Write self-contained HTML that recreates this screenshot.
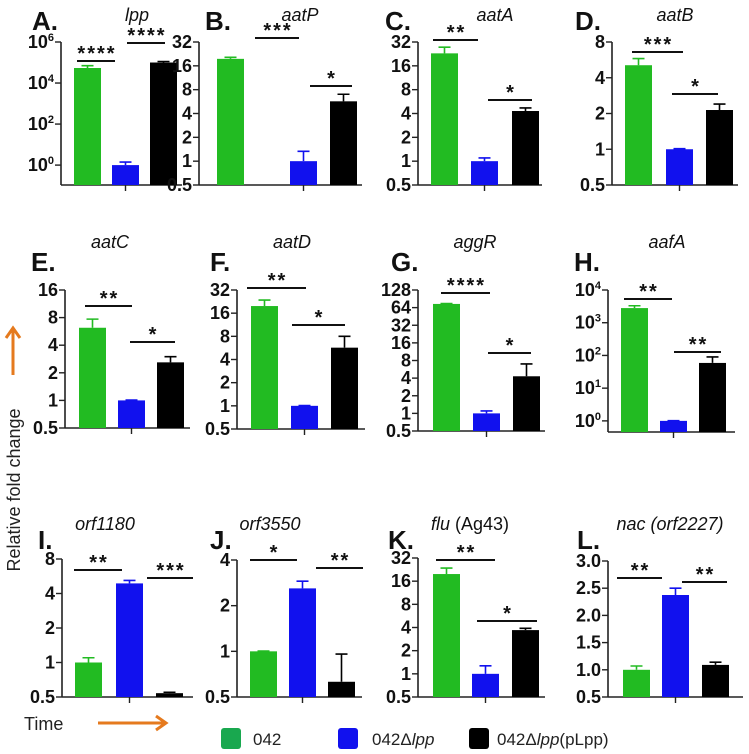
<!DOCTYPE html>
<html><head><meta charset="utf-8"><style>
html,body{margin:0;padding:0;background:#fff;}
svg{display:block;font-family:"Liberation Sans",Arial,sans-serif;}
.tk{font-weight:bold;font-size:18px;fill:#111;text-anchor:end;}
.ttl{font-style:italic;font-size:18px;fill:#111;text-anchor:middle;}
.let{font-weight:bold;font-size:26px;fill:#111;}
.st{font-weight:bold;font-size:20px;fill:#111;text-anchor:middle;letter-spacing:2px;}
</style></head><body>
<svg id="fig" width="749" height="754" viewBox="0 0 749 754"></svg>
<script>
const categories=["042","042Δlpp","042Δlpp(pLpp)"];
const valsA=[54000,1,100000]; const errA=[70000,1.4,112000];
const valsB=[19.6,1.0,5.7]; const errB=[20.5,1.33,7];
const valsC=[23,1,4.3]; const errC=[27.5,1.1,4.7];
const valsD=[5.1,1,2.14]; const errD=[5.8,1.01,2.4];
const valsE=[6.2,1,2.6]; const errE=[7.7,1.01,3.0];
const valsF=[19.8,1,5.7]; const errF=[23.7,1.01,8];
const valsG=[74,1,4.3]; const errG=[75,1.1,7];
const valsH=[2800,1,59]; const errH=[3300,1.01,90];
const valsI=[1.0,4.9,0.54]; const errI=[1.1,5.2,0.55];
const valsJ=[1.0,2.6,0.63]; const errJ=[1.005,2.9,0.96];
const valsK=[19.8,1,3.7]; const errK=[23.7,1.27,3.9];
const valsL=[1.0,2.375,1.09]; const errL=[1.07,2.5,1.14];
const ticksPow2=["0.5","1","2","4","8","16","32","64","128"];

const colors=["#22bb22","#1111ee","#000000"];
const NS="http://www.w3.org/2000/svg";
const svg=document.getElementById('fig');
function mk(tag,attrs,parent){const e=document.createElementNS(NS,tag);for(const k in attrs)e.setAttribute(k,attrs[k]);(parent||svg).appendChild(e);return e;}

const panels=[
 {id:'a',L:'A.',lx:32,ly:30,title:'lpp',tx:137,ty:21,x0:61,x1:182,yT:42,yB:185,type:'log10',min:-0.97,max:6,ticks:[0,2,4,6],bars:[74,112,150],vals:valsA,errs:errA,
  sig:[[77,115,61,'****'],[127,165,43,'****']]},
 {id:'b',L:'B.',lx:205,ly:30,title:'aatP',tx:300,ty:21,x0:199,x1:362,yT:42,yB:185,type:'log2',min:-1,max:5,ticks:[-1,0,1,2,3,4,5],bars:[217,290,330],vals:valsB,errs:errB,
  sig:[[255,299,38,'***'],[310,352,86,'*']]},
 {id:'c',L:'C.',lx:385,ly:30,title:'aatA',tx:495,ty:21,x0:418,x1:542,yT:42,yB:185,type:'log2',min:-1,max:5,ticks:[-1,0,1,2,3,4,5],bars:[431,471,512],vals:valsC,errs:errC,
  sig:[[433,478,40,'**'],[488,532,100,'*']]},
 {id:'d',L:'D.',lx:575,ly:30,title:'aatB',tx:675,ty:21,x0:612,x1:738,yT:42,yB:185,type:'log2',min:-1,max:3,ticks:[-1,0,1,2,3],bars:[625,666,706],vals:valsD,errs:errD,
  sig:[[632,683,52,'***'],[672,718,94,'*']]},
 {id:'e',L:'E.',lx:31,ly:271,title:'aatC',tx:110,ty:248,x0:65,x1:190,yT:290,yB:428,type:'log2',min:-1,max:4,ticks:[-1,0,1,2,3,4],bars:[79,118,157],vals:valsE,errs:errE,
  sig:[[85,132,306,'**'],[130,175,342,'*']]},
 {id:'f',L:'F.',lx:210,ly:271,title:'aatD',tx:292,ty:248,x0:237,x1:365,yT:290,yB:429,type:'log2',min:-1,max:5,ticks:[-1,0,1,2,3,4,5],bars:[251,291,331],vals:valsF,errs:errF,
  sig:[[247,306,288,'**'],[292,345,325,'*']]},
 {id:'g',L:'G.',lx:391,ly:271,title:'aggR',tx:475,ty:248,x0:418,x1:545,yT:290,yB:431,type:'log2',min:-1,max:7,ticks:[-1,0,1,2,3,4,5,6,7],bars:[433,473,513],vals:valsG,errs:errG,
  sig:[[441,490,293,'****'],[488,531,353,'*']]},
 {id:'h',L:'H.',lx:574,ly:271,title:'aafA',tx:667,ty:248,x0:608,x1:735,yT:290,yB:432,type:'log10',min:-0.34,max:4,ticks:[0,1,2,3,4],bars:[621,660,699],vals:valsH,errs:errH,
  sig:[[624,672,299,'**'],[674,721,352,'**']]},
 {id:'i',L:'I.',lx:38,ly:549,title:'orf1180',tx:105,ty:530,x0:62,x1:193,yT:559,yB:697,type:'log2',min:-1,max:3,ticks:[-1,0,1,2,3],bars:[75,116,156],vals:valsI,errs:errI,
  sig:[[74,122,570,'**'],[147,193,578,'***']]},
 {id:'j',L:'J.',lx:210,ly:549,title:'orf3550',tx:270,ty:530,x0:237,x1:362,yT:560,yB:697,type:'log2',min:-1,max:2,ticks:[-1,0,1,2],bars:[250,289,328],vals:valsJ,errs:errJ,
  sig:[[250,297,560,'*'],[316,363,568,'**']]},
 {id:'k',L:'K.',lx:388,ly:549,title:'flu',title2:' (Ag43)',tx:470,ty:530,x0:418,x1:545,yT:558,yB:697,type:'log2',min:-1,max:5,ticks:[-1,0,1,2,3,4,5],bars:[433,472,512],vals:valsK,errs:errK,
  sig:[[436,495,560,'**'],[477,537,621,'*']]},
 {id:'l',L:'L.',lx:577,ly:549,title:'nac (orf2227)',tx:670,ty:530,x0:608,x1:743,yT:561,yB:697,type:'lin',min:0.5,max:3,ticks:[0.5,1,1.5,2,2.5,3],bars:[623,662,702],vals:valsL,errs:errL,
  sig:[[617,662,578,'**'],[682,727,582,'**']]}
];
const BW=27;
panels.forEach(p=>{
  const g=mk('g',{});
  
  
  function y(v){let t;
    if(p.type==='log10')t=Math.log10(v);else if(p.type==='log2')t=Math.log2(v);else t=v;
    return p.yB-(t-p.min)/(p.max-p.min)*(p.yB-p.yT);}
  function yt(t){return p.yB-(t-p.min)/(p.max-p.min)*(p.yB-p.yT);}
  const lt=mk('text',{x:p.lx,y:p.ly,'class':'let'},g);lt.textContent=p.L;
  
  const tt=mk('text',{x:p.tx,y:p.ty,'class':'ttl'},g);
  if(p.title2){const a=mk('tspan',{},tt);a.textContent=p.title;const b=mk('tspan',{'font-style':'normal'},tt);b.textContent=p.title2;}
  else tt.textContent=p.title;
  
  const ya=mk('line',{x1:p.x0,x2:p.x0,y1:p.yT,y2:p.yB,stroke:'#222','stroke-width':1.6},g);
  
  const xa=mk('line',{x1:p.x0,x2:p.x1,y1:p.yB,y2:p.yB,stroke:'#222','stroke-width':1.6},g);
  
  const cx=p.bars[1]+BW/2;
  mk('line',{x1:cx,x2:cx,y1:p.yB,y2:p.yB+6,stroke:'#222','stroke-width':1.4},g);
  p.ticks.forEach(t=>{
    const yy=yt(t);
    mk('line',{x1:p.x0-6,x2:p.x0,y1:yy,y2:yy,stroke:'#222','stroke-width':1.4},g);
    const tx=mk('text',{x:p.x0-7,y:yy+6,'class':'tk'},g);
    
    if(p.type==='log10'){const a=mk('tspan',{},tx);a.textContent='10';const b=mk('tspan',{dy:-7,'font-size':'11px'},tx);b.textContent=String(t);}
    else if(p.type==='log2'){tx.textContent=ticksPow2[t+1];}
    else tx.textContent=t.toFixed(1);
  });
  p.vals.forEach((v,i)=>{
    const x=p.bars[i],top=y(v),e=y(p.errs[i]);
    const r=mk('rect',{x:x,y:top,width:BW,height:p.yB-top,fill:colors[i]},g);
    
    
    const m=x+BW/2;
    const ln=mk('path',{d:`M${m},${top}V${e}M${m-6},${e}H${m+6}`,stroke:colors[i],'stroke-width':1.6,fill:'none'},g);
    
    
  });
  p.sig.forEach(s=>{
    mk('line',{x1:s[0],x2:s[1],y1:s[2],y2:s[2],stroke:'#111','stroke-width':2},g);
    const st=mk('text',{x:(s[0]+s[1])/2+1,y:s[2]-1,'class':'st'},g);st.textContent=s[3];
    
  });
});
</script>
<div style="position:absolute;left:0;top:0;width:749px;height:754px;pointer-events:none;">
<svg width="749" height="754" style="position:absolute;left:0;top:0;font-family:'Liberation Sans',Arial,sans-serif">
  <text transform="translate(20,490) rotate(-90)" text-anchor="middle" font-size="18" fill="#222">Relative fold change</text>
  <g stroke="#e57a1e" stroke-width="3" fill="none"><path d="M13,375V330"/><path d="M6,338L13,328L20,338"/></g>
  <text x="24" y="730" font-size="18" fill="#222">Time</text>
  <g stroke="#e57a1e" stroke-width="3" fill="none"><path d="M98,723H164"/><path d="M156,716L166,723L156,730"/></g>
  <g font-size="17" fill="#222">
    <rect x="221" y="728" width="20" height="21" rx="3" fill="#19a84f"/>
    <text x="253" y="745">042</text>
    <rect x="338" y="728" width="20" height="21" rx="3" fill="#1111ee"/>
    <text x="372" y="745">042Δ<tspan font-style="italic">lpp</tspan></text>
    <rect x="469" y="728" width="20" height="21" rx="3" fill="#000"/>
    <text x="497" y="745">042Δ<tspan font-style="italic">lpp</tspan>(pLpp)</text>
  </g>
</svg></div>
</body></html>
